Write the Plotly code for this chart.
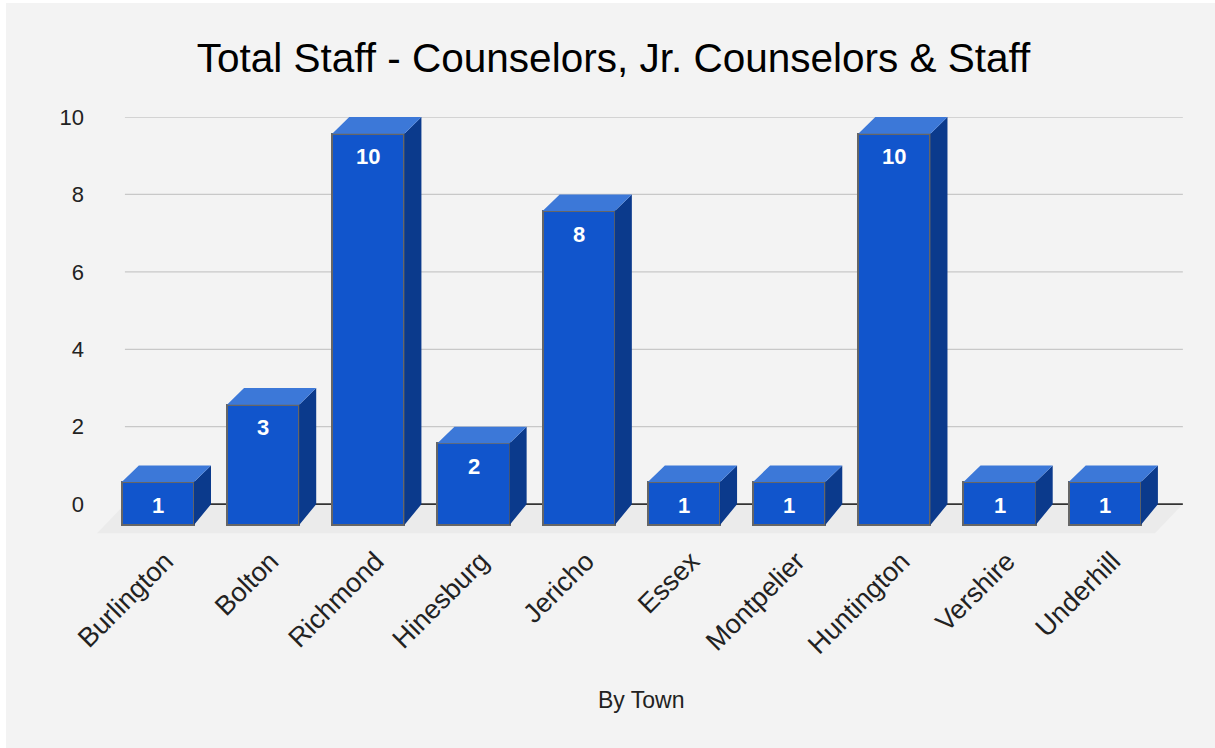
import plotly.graph_objects as go

# ---------------- data ----------------
towns = ["Burlington", "Bolton", "Richmond", "Hinesburg", "Jericho",
         "Essex", "Montpelier", "Huntington", "Vershire", "Underhill"]
staff = [1, 3, 10, 2, 8, 1, 1, 10, 1, 1]
y_ticks = [0, 2, 4, 6, 8, 10]
chart_title = "Total Staff - Counselors, Jr. Counselors & Staff"
x_title = "By Town"

# ---------------- pseudo-3D geometry (data units) ----------------
HALF_W = 0.343        # half width of a bar face
DX = -0.162           # horizontal shift of the front face
DY_TOP = -0.43        # vertical shift of the front face top
DY_BOT = -0.54        # bottom of the front face
FLOOR_DY = -0.75      # depth of the floor plane
FLOOR_DX = -0.265
LABEL_DX = -0.09      # category label anchor shift
X_MIN, X_MAX = -0.75, 9.61
Y_MIN, Y_MAX = -0.9, 10.0
BACK_LEFT, BACK_RIGHT = -0.475, 9.58

FRONT = "#1155cc"
TOP = "#3c78d8"
SIDE = "#0b3a8c"
EDGE = "#666666"
BG = "#f3f3f3"
FONT = "Liberation Sans, Arial, sans-serif"

xpos = list(range(len(towns)))

# top and side faces
tx, ty = [], []
sx, sy = [], []
for i, v in zip(xpos, staff):
    fl, fr = i + DX - HALF_W, i + DX + HALF_W
    bl, br = i - HALF_W, i + HALF_W
    ft = v + DY_TOP
    tx += [fl, fr, br, bl, fl, None]
    ty += [ft, ft, v, v, ft, None]
    sx += [fr, br, br, fr, fr, None]
    sy += [ft, v, 0, DY_BOT, ft, None]

fig = go.Figure()
fig.add_trace(go.Scatter(x=sx, y=sy, mode="lines", fill="toself",
                         fillcolor=SIDE, line=dict(width=0, color=SIDE),
                         hoverinfo="skip", showlegend=False, cliponaxis=False))
fig.add_trace(go.Scatter(x=tx, y=ty, mode="lines", fill="toself",
                         fillcolor=TOP, line=dict(width=0, color=TOP),
                         hoverinfo="skip", showlegend=False, cliponaxis=False))
fig.add_trace(go.Bar(
    x=[i + DX for i in xpos],
    y=[v + DY_TOP - DY_BOT for v in staff],
    base=[DY_BOT] * len(staff),
    width=2 * HALF_W,
    marker=dict(color=FRONT, line=dict(color=EDGE, width=2)),
    customdata=towns,
    hovertemplate="%{customdata}: %{text}<extra></extra>",
    text=[str(v) for v in staff],
    textposition="none",
    showlegend=False,
))

shapes = []
# floor
shapes.append(dict(
    type="path", xref="x", yref="y", layer="below",
    path=(f"M {BACK_LEFT},0 L {BACK_RIGHT},0 "
          f"L {BACK_RIGHT + FLOOR_DX},{FLOOR_DY} L {BACK_LEFT + FLOOR_DX},{FLOOR_DY} Z"),
    fillcolor="#ebebeb", line=dict(width=0)))
# gridlines
for t in y_ticks:
    if t == 0:
        continue
    shapes.append(dict(type="line", xref="x", yref="y", layer="below",
                       x0=BACK_LEFT, x1=BACK_RIGHT, y0=t, y1=t,
                       line=dict(color="#c8c8c8", width=1.3)))
# baseline
shapes.append(dict(type="line", xref="x", yref="y", layer="below",
                   x0=BACK_LEFT, x1=BACK_RIGHT, y0=0, y1=0,
                   line=dict(color="#333333", width=1.6)))

annotations = []
for i, v in zip(xpos, staff):
    annotations.append(dict(
        x=i + DX, y=v + DY_TOP, xref="x", yref="y", yshift=-23,
        text=f"<b>{v}</b>", showarrow=False, yanchor="middle",
        font=dict(family=FONT, size=22, color="#ffffff")))
annotations.append(dict(
    x=0.5, y=-0.382, xref="paper", yref="paper", text=x_title,
    showarrow=False, xanchor="center", yanchor="middle",
    font=dict(family=FONT, size=23, color="#222222")))

fig.update_layout(
    width=1209, height=745, autosize=False,
    margin=dict(l=90, r=29, t=114, b=209),
    paper_bgcolor=BG, plot_bgcolor="rgba(0,0,0,0)",
    title=dict(text=chart_title, x=0.5025, xanchor="center", xref="container",
               y=0.9268, yanchor="middle", yref="container",
               font=dict(family=FONT, size=40.5, color="#000000")),
    shapes=shapes, annotations=annotations,
    showlegend=False, bargap=0,
    xaxis=dict(range=[X_MIN, X_MAX], tickvals=[i + LABEL_DX for i in xpos],
               ticktext=towns,
               tickangle=-45, showgrid=False, zeroline=False, showline=False,
               ticks="", automargin=False, fixedrange=True,
               tickfont=dict(family=FONT, size=27, color="#222222")),
    yaxis=dict(range=[Y_MIN, Y_MAX], tickvals=y_ticks, showgrid=False,
               zeroline=False, showline=False, ticks="", automargin=False,
               fixedrange=True, ticklabelstandoff=11,
               tickfont=dict(family=FONT, size=22, color="#222222")),
)

fig.write_html("out.html", config={"displayModeBar": False},
               post_script="document.body.style.margin='3px 0 0 6px';"
                           "document.body.style.overflow='hidden';"
                           "document.body.style.background='#ffffff';")
